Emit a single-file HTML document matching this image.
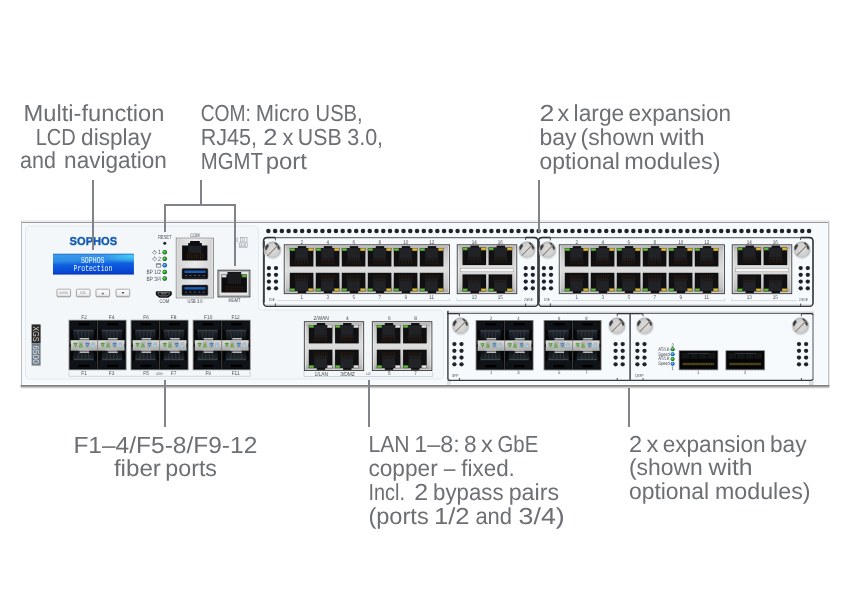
<!DOCTYPE html>
<html><head><meta charset="utf-8"><title>XGS 6500 front view</title>
<style>html,body{margin:0;padding:0;background:#fff}svg{display:block;will-change:transform}text{text-rendering:geometricPrecision}</style></head>
<body>
<svg width="850" height="610" viewBox="0 0 850 610">

<defs>
<linearGradient id="gLcd" x1="0" y1="0" x2="0.12" y2="1"><stop offset="0" stop-color="#3c9deb"/><stop offset="0.36" stop-color="#2f8ce6"/><stop offset="0.56" stop-color="#0f5fe0"/><stop offset="1" stop-color="#0642cf"/></linearGradient>
<radialGradient id="gLcdHi" cx="0.97" cy="0.1" r="0.35" gradientTransform="scale(1 1)"><stop offset="0" stop-color="#45d0f5" stop-opacity="0.95"/><stop offset="1" stop-color="#45d0f5" stop-opacity="0"/></radialGradient>
<linearGradient id="gFrame" x1="0" y1="0" x2="0" y2="1"><stop offset="0" stop-color="#a9a9a9"/><stop offset="0.12" stop-color="#c9c9c9"/><stop offset="0.5" stop-color="#dedede"/><stop offset="0.88" stop-color="#c4c4c4"/><stop offset="1" stop-color="#9c9c9c"/></linearGradient>
<linearGradient id="gFrame2" x1="0" y1="0" x2="1" y2="0"><stop offset="0" stop-color="#d2d2d2"/><stop offset="0.5" stop-color="#eaeaea"/><stop offset="1" stop-color="#d2d2d2"/></linearGradient>
<linearGradient id="gStrip" x1="0" y1="0" x2="0" y2="1"><stop offset="0" stop-color="#dededc"/><stop offset="0.5" stop-color="#c6c6c4"/><stop offset="1" stop-color="#a6a6a4"/></linearGradient>
<radialGradient id="gScrew" cx="0.5" cy="0.52" r="0.52"><stop offset="0" stop-color="#dcdcdc"/><stop offset="0.7" stop-color="#d0d0d0"/><stop offset="0.92" stop-color="#bcbcbc"/><stop offset="1" stop-color="#a6a6a6"/></radialGradient>
<linearGradient id="gTop" x1="0" y1="0" x2="0" y2="1"><stop offset="0" stop-color="#7a7a7a"/><stop offset="0.5" stop-color="#a8a8a8"/><stop offset="1" stop-color="#e6e9eb" stop-opacity="0"/></linearGradient>
<linearGradient id="gBot" x1="0" y1="0" x2="0" y2="1"><stop offset="0" stop-color="#777"/><stop offset="0.5" stop-color="#999"/><stop offset="1" stop-color="#ccc" stop-opacity="0"/></linearGradient>
<linearGradient id="gCage" x1="0" y1="0" x2="0" y2="1"><stop offset="0" stop-color="#242a31"/><stop offset="1" stop-color="#0e1216"/></linearGradient>
<linearGradient id="gCageB" x1="0" y1="1" x2="0" y2="0"><stop offset="0" stop-color="#242a31"/><stop offset="1" stop-color="#0e1216"/></linearGradient>
<radialGradient id="gLedG" cx="0.4" cy="0.35" r="0.7"><stop offset="0" stop-color="#8be06a"/><stop offset="0.5" stop-color="#2fae2a"/><stop offset="1" stop-color="#15701a"/></radialGradient>
<radialGradient id="gLedB" cx="0.4" cy="0.35" r="0.7"><stop offset="0" stop-color="#8fd0ff"/><stop offset="0.5" stop-color="#2a8ae2"/><stop offset="1" stop-color="#115aa8"/></radialGradient>
<linearGradient id="gBayShade" x1="0" y1="0" x2="0" y2="1"><stop offset="0" stop-color="#c6cacd" stop-opacity="0"/><stop offset="1" stop-color="#a9adb0" stop-opacity="0.95"/></linearGradient>
<linearGradient id="gBayShadeUp" x1="0" y1="1" x2="0" y2="0"><stop offset="0" stop-color="#b9bdc0" stop-opacity="0.95"/><stop offset="1" stop-color="#dfe3e6" stop-opacity="0"/></linearGradient>
<linearGradient id="gBtn" x1="0" y1="0" x2="0" y2="1"><stop offset="0" stop-color="#ffffff"/><stop offset="1" stop-color="#e6e6e6"/></linearGradient>

<!-- RJ45 port, tab up. origin = body top-left, body 23.6x18.4 -->
<g id="rjU">
  <rect x="0" y="0" width="23.6" height="18.4" fill="#0d0d0f"/>
  <rect x="8" y="-2" width="8.4" height="2.4" fill="#111114"/>
  <rect x="5.6" y="0.4" width="12.4" height="12" fill="#1e2024"/>
  <rect x="0.6" y="3" width="22.4" height="14.6" fill="#141416" opacity="0.55"/>
  <rect x="5.6" y="0.4" width="12.4" height="9.5" fill="#222428" opacity="0.9"/>
  <g stroke="#5c3412" stroke-width="0.45" opacity="0.6">
    <path d="M5.6 10.6V16.2M7.4 10.6V16.2M9.2 10.6V16.2M11 10.6V16.2M12.8 10.6V16.2M14.6 10.6V16.2M16.4 10.6V16.2M18.2 10.6V16.2"/>
  </g>
</g>
<!-- RJ45 port, tab down -->
<g id="rjD">
  <rect x="0" y="0" width="23.6" height="18.4" fill="#0d0d0f"/>
  <rect x="8" y="18" width="8.4" height="2.2" fill="#111114"/>
  <rect x="5.6" y="6" width="12.4" height="12" fill="#1e2024"/>
  <rect x="0.6" y="0.8" width="22.4" height="14.6" fill="#141416" opacity="0.55"/>
  <rect x="5.6" y="8.5" width="12.4" height="9.5" fill="#222428" opacity="0.9"/>
  <g stroke="#5c3412" stroke-width="0.45" opacity="0.6">
    <path d="M5.6 2.2V7.8M7.4 2.2V7.8M9.2 2.2V7.8M11 2.2V7.8M12.8 2.2V7.8M14.6 2.2V7.8M16.4 2.2V7.8M18.2 2.2V7.8"/>
  </g>
</g>
<!-- LEDs for ports -->
<g id="ledG"><rect width="5.2" height="2.9" fill="#3c7d24"/><rect x="0.7" y="0.6" width="3.8" height="1.6" fill="#74bb46"/></g>
<g id="ledY"><rect width="5.2" height="2.9" fill="#a88a20"/><rect x="0.7" y="0.6" width="3.8" height="1.6" fill="#dcc043"/></g>
<g id="ledW"><rect width="5.2" height="2.9" fill="#a9a9a9"/><rect x="0.7" y="0.6" width="3.8" height="1.6" fill="#e9e9e9"/></g>

<!-- screw r=8 centered at 0,0 -->
<g id="screw">
  <circle cx="0" cy="0.7" r="9" fill="#d3d7da" opacity="0.75"/>
  <circle r="8.1" fill="url(#gScrew)"/>
  <path d="M-7.2 0.2L-7.65 -2.2L-6.9 -4L-5.05 -5.5L-4.1 -4.5L-4.3 -2.9L-5.4 -1.4L-6.1 0.2Z" fill="#3c3c3c" stroke="#6a6a6a" stroke-width="0.5" stroke-linejoin="round"/>
  <path d="M1.6 -7L3.6 -6.8L5.6 -4.8L7 -2.2L6.9 -0.1L5.6 -0.3L4.7 -2.9L3.1 -5.1Z" fill="#353535" stroke="#6a6a6a" stroke-width="0.5" stroke-linejoin="round"/>
  <path d="M-5.4 5.0L4.5 -4.9" stroke="#ffffff" stroke-width="0.6" opacity="0.5"/>
  <path d="M-4.9 5.6L5.05 -4.3" stroke="#8c8076" stroke-width="1.1" stroke-linecap="round"/>
</g>
<!-- 2x4 dots; origin = center of top-left dot -->
<g id="dots8" fill="#1f232c">
  <circle cx="0" cy="0" r="2.15"/><circle cx="7.1" cy="0" r="2.15"/>
  <circle cx="0" cy="6.75" r="2.15"/><circle cx="7.1" cy="6.75" r="2.15"/>
  <circle cx="0" cy="13.5" r="2.15"/><circle cx="7.1" cy="13.5" r="2.15"/>
  <circle cx="0" cy="20.25" r="2.15"/><circle cx="7.1" cy="20.25" r="2.15"/>
</g>

<!-- SFP column (28.5 wide, 49.4 tall) -->
<g id="sfpCol">
  <rect x="1.4" y="1.1" width="25.8" height="8.2" fill="#0f1318"/>
  <rect x="9.4" y="2.5" width="10.8" height="2.5" fill="#000"/>
  <path d="M3.8 9.3H25L24 19.9H4.8Z" fill="url(#gCage)"/>
  <path d="M4.8 10.4H24" stroke="#4a545e" stroke-width="0.7" fill="none"/>
  <path d="M8.9 10.6L9.9 19M20 10.6L19 19M12.7 11.2V18M16.2 11.2V18" stroke="#3a434c" stroke-width="0.6" fill="none"/>
  <rect x="10.6" y="17.8" width="9.4" height="2.1" fill="#777b7e"/>
  <rect x="10.6" y="17.8" width="9.4" height="0.7" fill="#e2e2e2"/>
  <rect x="1.4" y="40.1" width="25.8" height="8.2" fill="#0f1318"/>
  <rect x="9.4" y="44.4" width="10.8" height="2.5" fill="#000"/>
  <path d="M3.8 40.1H25L24 29.9H4.8Z" fill="url(#gCageB)"/>
  <path d="M4.8 39H24" stroke="#4a545e" stroke-width="0.7" fill="none"/>
  <path d="M8.9 38.8L9.9 30.6M20 38.8L19 30.6M12.7 38.2V31.4M16.2 38.2V31.4" stroke="#3a434c" stroke-width="0.6" fill="none"/>
  <rect x="10.6" y="30.4" width="9.4" height="2.1" fill="#777b7e"/>
  <rect x="10.6" y="31.8" width="9.4" height="0.7" fill="#d6d6d6"/>
</g>
<g id="sfpLeds">
  <rect x="9.4" y="19.9" width="11" height="10.5" fill="#b9b9b7" opacity="0.75"/>
  <rect x="4.3" y="21.9" width="4.2" height="5.6" fill="#a9aaa8" opacity="0.55"/>
  <rect x="9.7" y="21.9" width="4.2" height="5.6" fill="#9a9b99" opacity="0.55"/>
  <rect x="16.3" y="21.9" width="4.2" height="5.6" fill="#9a9b99" opacity="0.55"/>
  <rect x="21.9" y="21.9" width="4.2" height="5.6" fill="#a9aaa8" opacity="0.55"/>
  <path d="M4.4 22.8H8.6L6.5 26.9Z" fill="#4c9a38"/><path d="M5.7 23.6H7.3L6.5 25.2Z" fill="#8fd06a"/>
  <path d="M9.6 26.9H13.8L11.7 22.8Z" fill="#56a63e"/><path d="M10.9 26.1H12.5L11.7 24.5Z" fill="#9ad876"/>
  <path d="M16.3 22.8H20.5L18.4 26.9Z" fill="#3a80c6"/><path d="M17.6 23.6H19.2L18.4 25.2Z" fill="#8cc0ee"/>
  <path d="M21.8 26.9H25.8L23.8 22.8Z" fill="#86c0ea"/><path d="M23 26.1H24.6L23.8 24.5Z" fill="#e4f3fc"/>
</g>
<g id="sfp">
  <rect x="-0.5" y="-0.5" width="58" height="50.4" fill="#858585"/><rect x="0.4" y="0.4" width="56.2" height="48.6" fill="#060708"/>
  <use href="#sfpCol"/><use href="#sfpCol" x="28.5"/>
  <rect x="1.5" y="19.9" width="54" height="10.5" fill="url(#gStrip)"/>
  <path d="M1.5 22.7L0.4 25.1L1.5 27.5ZM55.5 22.7L56.6 25.1L55.5 27.5Z" fill="#060708"/>
  <use href="#sfpLeds"/><use href="#sfpLeds" x="27.2"/>
  <path d="M28.5 0.5V19.9M28.5 30.4V49" stroke="#505050" stroke-width="0.8"/>
  <path d="M28.5 19.9V30.4" stroke="#6a6a6a" stroke-width="0.7"/>
</g>

<!-- QSFP port 38.8 x 19.2 -->
<g id="qsfp">
  <rect x="0" y="0" width="38.8" height="19.2" fill="#050506" stroke="#8d8f92" stroke-width="0.7"/>
  <rect x="2.4" y="2" width="33.8" height="6" rx="1" fill="#121416"/>
  <path d="M10.9 2.2V7.8M19.4 2.2V7.8M27.9 2.2V7.8" stroke="#050506" stroke-width="0.9"/>
  <path d="M9 2.7H30" stroke="#4c5056" stroke-width="0.6"/>
  <rect x="3.4" y="11.9" width="31.8" height="2.8" fill="#2a2712"/>
  <path d="M3.8 13.3H34.8" stroke="#796c28" stroke-width="1.05" stroke-dasharray="1.2 0.45"/>
  <path d="M1 18.6H37.8" stroke="#6a6c70" stroke-width="0.5" stroke-dasharray="2.4 0.8"/>
</g>
</defs>

<rect x="21" y="220" width="808" height="165" fill="#f6fafc"/>
<rect x="21" y="220" width="808" height="2" fill="#ededee"/>
<rect x="21" y="222" width="808" height="1" fill="#979a9e"/>
<rect x="21" y="221" width="1" height="164" fill="#bcbfc2"/>
<rect x="828" y="221" width="1" height="164" fill="#c0c2c4"/>
<rect x="829" y="222" width="0.6" height="164" fill="#dcdcdc"/>
<rect x="22" y="384" width="806" height="1" fill="#ffffff"/>
<rect x="20.6" y="385" width="808.8" height="1.8" fill="#7e7e7c"/>
<rect x="20.6" y="386.8" width="808.8" height="1.2" fill="#b9b9b8" opacity="0.75"/>
<rect x="21" y="388" width="808" height="0.8" fill="#e4e4e4" opacity="0.7"/>
<path d="M29.5 226H254.5Q258.5 226 258.5 230V306.5Q258.5 310 262 310H439Q443.5 310 443.5 314.5V374.5Q443.5 379 439 379H29.5Q25.5 379 25.5 375V230Q25.5 226 29.5 226Z" fill="#f3f7fa" stroke="#e3e7ea" stroke-width="0.9"/>
<g font-family="'Liberation Sans', sans-serif" fill="#6c6f73">
<text y="120.7" font-size="23.2"><tspan x="23.5" textLength="141.0" lengthAdjust="spacingAndGlyphs">Multi-function</tspan></text>
<text y="144.5" font-size="23.2"><tspan x="35.7" textLength="40.2" lengthAdjust="spacingAndGlyphs">LCD</tspan> <tspan x="81.1" textLength="70.4" lengthAdjust="spacingAndGlyphs">display</tspan></text>
<text y="168.2" font-size="23.2"><tspan x="20.1" textLength="35.8" lengthAdjust="spacingAndGlyphs">and</tspan> <tspan x="64.1" textLength="102.8" lengthAdjust="spacingAndGlyphs">navigation</tspan></text>
<text y="121.0" font-size="23.2"><tspan x="200.7" textLength="50.2" lengthAdjust="spacingAndGlyphs">COM:</tspan> <tspan x="255.8" textLength="53.7" lengthAdjust="spacingAndGlyphs">Micro</tspan> <tspan x="315.6" textLength="47.0" lengthAdjust="spacingAndGlyphs">USB,</tspan></text>
<text y="145.0" font-size="23.2"><tspan x="200.7" textLength="56.4" lengthAdjust="spacingAndGlyphs">RJ45,</tspan> <tspan x="263.2" textLength="14.2" lengthAdjust="spacingAndGlyphs">2</tspan> <tspan x="282.5" textLength="10.9" lengthAdjust="spacingAndGlyphs">x</tspan> <tspan x="297.8" textLength="43.8" lengthAdjust="spacingAndGlyphs">USB</tspan> <tspan x="347.2" textLength="35.9" lengthAdjust="spacingAndGlyphs">3.0,</tspan></text>
<text y="169.0" font-size="23.2"><tspan x="200.7" textLength="61.8" lengthAdjust="spacingAndGlyphs">MGMT</tspan> <tspan x="265.7" textLength="41.3" lengthAdjust="spacingAndGlyphs">port</tspan></text>
<text y="121.3" font-size="23.2"><tspan x="539.5" textLength="14.9" lengthAdjust="spacingAndGlyphs">2</tspan> <tspan x="557.5" textLength="11.7" lengthAdjust="spacingAndGlyphs">x</tspan> <tspan x="573.6" textLength="50.7" lengthAdjust="spacingAndGlyphs">large</tspan> <tspan x="628.4" textLength="102.6" lengthAdjust="spacingAndGlyphs">expansion</tspan></text>
<text y="145.3" font-size="23.2"><tspan x="539.5" textLength="37.1" lengthAdjust="spacingAndGlyphs">bay</tspan> <tspan x="580.5" textLength="73.9" lengthAdjust="spacingAndGlyphs">(shown</tspan> <tspan x="660.0" textLength="44.6" lengthAdjust="spacingAndGlyphs">with</tspan></text>
<text y="169.1" font-size="23.2"><tspan x="539.5" textLength="80.3" lengthAdjust="spacingAndGlyphs">optional</tspan> <tspan x="624.2" textLength="96.4" lengthAdjust="spacingAndGlyphs">modules)</tspan></text>
<text y="452.5" font-size="23.2"><tspan x="73.4" textLength="183.9" lengthAdjust="spacingAndGlyphs">F1–4/F5-8/F9-12</tspan></text>
<text y="476.3" font-size="23.2"><tspan x="113.9" textLength="47.0" lengthAdjust="spacingAndGlyphs">fiber</tspan> <tspan x="165.3" textLength="51.7" lengthAdjust="spacingAndGlyphs">ports</tspan></text>
<text y="451.8" font-size="23.2"><tspan x="368.4" textLength="41.1" lengthAdjust="spacingAndGlyphs">LAN</tspan> <tspan x="414.2" textLength="45.5" lengthAdjust="spacingAndGlyphs">1–8:</tspan> <tspan x="464.1" textLength="12.6" lengthAdjust="spacingAndGlyphs">8</tspan> <tspan x="481.1" textLength="11.9" lengthAdjust="spacingAndGlyphs">x</tspan> <tspan x="497.5" textLength="40.7" lengthAdjust="spacingAndGlyphs">GbE</tspan></text>
<text y="475.7" font-size="23.2"><tspan x="368.4" textLength="69.3" lengthAdjust="spacingAndGlyphs">copper</tspan> <tspan x="443.8" textLength="11.7" lengthAdjust="spacingAndGlyphs">–</tspan> <tspan x="461.3" textLength="53.5" lengthAdjust="spacingAndGlyphs">fixed.</tspan></text>
<text y="499.6" font-size="23.2"><tspan x="368.5" textLength="36.4" lengthAdjust="spacingAndGlyphs">Incl.</tspan> <tspan x="414.2" textLength="13.9" lengthAdjust="spacingAndGlyphs">2</tspan> <tspan x="433.1" textLength="70.4" lengthAdjust="spacingAndGlyphs">bypass</tspan> <tspan x="508.7" textLength="50.4" lengthAdjust="spacingAndGlyphs">pairs</tspan></text>
<text y="523.5" font-size="23.2"><tspan x="368.4" textLength="60.3" lengthAdjust="spacingAndGlyphs">(ports</tspan> <tspan x="433.9" textLength="35.7" lengthAdjust="spacingAndGlyphs">1/2</tspan> <tspan x="475.4" textLength="36.6" lengthAdjust="spacingAndGlyphs">and</tspan> <tspan x="518.6" textLength="46.2" lengthAdjust="spacingAndGlyphs">3/4)</tspan></text>
<text y="451.5" font-size="23.2"><tspan x="628.9" textLength="13.1" lengthAdjust="spacingAndGlyphs">2</tspan> <tspan x="646.4" textLength="11.9" lengthAdjust="spacingAndGlyphs">x</tspan> <tspan x="662.7" textLength="102.9" lengthAdjust="spacingAndGlyphs">expansion</tspan> <tspan x="770.0" textLength="36.6" lengthAdjust="spacingAndGlyphs">bay</tspan></text>
<text y="475.3" font-size="23.2"><tspan x="628.9" textLength="73.8" lengthAdjust="spacingAndGlyphs">(shown</tspan> <tspan x="708.5" textLength="44.1" lengthAdjust="spacingAndGlyphs">with</tspan></text>
<text y="498.9" font-size="23.2"><tspan x="628.9" textLength="80.3" lengthAdjust="spacingAndGlyphs">optional</tspan> <tspan x="715.0" textLength="95.5" lengthAdjust="spacingAndGlyphs">modules)</tspan></text>
</g>
<g font-family="'Liberation Sans', sans-serif">
<text x="69.6" y="244.7" font-size="11.4" font-weight="bold" fill="#135ab0" stroke="#135ab0" stroke-width="0.35" textLength="47.6" lengthAdjust="spacingAndGlyphs">SOPHOS</text>
<rect x="53" y="253.8" width="80.9" height="20.6" fill="url(#gLcd)"/>
<rect x="53" y="253.8" width="80.9" height="20.6" fill="url(#gLcdHi)"/>
<rect x="53" y="273.4" width="80.9" height="1" fill="#0a2fa8" opacity="0.7"/>
<rect x="53" y="253.8" width="80.9" height="0.8" fill="#1546a8" opacity="0.6"/>
<g font-family="'Liberation Mono', monospace" fill="#eef6ff" font-size="9">
<text x="80.9" y="262.9" textLength="23.6" lengthAdjust="spacingAndGlyphs">SOPHOS</text>
<text x="73.5" y="271.1" textLength="38.8" lengthAdjust="spacingAndGlyphs">Protection</text>
</g>
<rect x="56.8" y="289.6" width="14" height="7.8" rx="1" fill="#9a9a9a" opacity="0.55"/>
<rect x="57" y="289.2" width="13.6" height="7.2" rx="0.9" fill="url(#gBtn)" stroke="#8e8e8e" stroke-width="0.7"/>
<text transform="translate(63.8 294.1) scale(0.87 1)" font-size="3.68" text-anchor="middle" fill="#8a8a8a" textLength="9.89" lengthAdjust="spacingAndGlyphs" >ENTER</text>
<rect x="76.2" y="289.6" width="14" height="7.8" rx="1" fill="#9a9a9a" opacity="0.55"/>
<rect x="76.4" y="289.2" width="13.6" height="7.2" rx="0.9" fill="url(#gBtn)" stroke="#8e8e8e" stroke-width="0.7"/>
<text transform="translate(83.2 294.1) scale(0.87 1)" font-size="3.68" text-anchor="middle" fill="#8a8a8a" textLength="6.90" lengthAdjust="spacingAndGlyphs" >ESC</text>
<rect x="95.8" y="289.6" width="14" height="7.8" rx="1" fill="#9a9a9a" opacity="0.55"/>
<rect x="96" y="289.2" width="13.6" height="7.2" rx="0.9" fill="url(#gBtn)" stroke="#8e8e8e" stroke-width="0.7"/>
<path d="M101.6 294.2H104.2L102.9 292.2Z" fill="#555"/>
<rect x="115.89999999999999" y="289.6" width="14" height="7.8" rx="1" fill="#9a9a9a" opacity="0.55"/>
<rect x="116.1" y="289.2" width="13.6" height="7.2" rx="0.9" fill="url(#gBtn)" stroke="#8e8e8e" stroke-width="0.7"/>
<path d="M121.69999999999999 292.1H124.3L123.0 294.1Z" fill="#333"/>
<text transform="translate(164.7 239.0) scale(0.87 1)" font-size="5.75" text-anchor="middle" fill="#4d5158" textLength="15.63" lengthAdjust="spacingAndGlyphs" >RESET</text>
<circle cx="164.8" cy="243.3" r="1.5" fill="#1c2030"/>
<circle cx="164.7" cy="252.3" r="2.25" fill="#14581a"/>
<circle cx="164.7" cy="252.3" r="1.85" fill="url(#gLedG)"/>
<circle cx="164.7" cy="258.8" r="2.25" fill="#14581a"/>
<circle cx="164.7" cy="258.8" r="1.85" fill="url(#gLedG)"/>
<circle cx="164.7" cy="265.3" r="2.25" fill="#0e4a8c"/>
<circle cx="164.7" cy="265.3" r="1.85" fill="url(#gLedB)"/>
<circle cx="164.7" cy="272.0" r="2.25" fill="#14581a"/>
<circle cx="164.7" cy="272.0" r="1.85" fill="url(#gLedG)"/>
<circle cx="164.7" cy="278.6" r="2.25" fill="#14581a"/>
<circle cx="164.7" cy="278.6" r="1.85" fill="url(#gLedG)"/>
<text transform="translate(161.0 254.2) scale(0.87 1)" font-size="6.21" text-anchor="end" fill="#4d5158" >1</text>
<text transform="translate(161.0 260.7) scale(0.87 1)" font-size="6.21" text-anchor="end" fill="#4d5158" >2</text>
<path d="M154.6 250.8L156.8 252.5L154.6 254.4L152.4 252.5Z" fill="none" stroke="#555a61" stroke-width="0.55"/><path d="M154.6 249.9V251.7" stroke="#555a61" stroke-width="0.55"/>
<path d="M154.6 257.3L156.8 259.0L154.6 260.9L152.4 259.0Z" fill="none" stroke="#555a61" stroke-width="0.55"/><path d="M154.6 256.4V258.2" stroke="#555a61" stroke-width="0.55"/>
<path d="M156.4 263.5H160.6V267.2H156.4ZM156.4 264.5H160.6" fill="none" stroke="#555a61" stroke-width="0.6"/>
<text transform="translate(161.0 273.9) scale(0.87 1)" font-size="6.09" text-anchor="end" fill="#4d5158" textLength="16.78" lengthAdjust="spacingAndGlyphs" >BP 1/2</text>
<text transform="translate(161.0 280.5) scale(0.87 1)" font-size="6.09" text-anchor="end" fill="#4d5158" textLength="16.78" lengthAdjust="spacingAndGlyphs" >BP 3/4</text>
<path d="M157 291.2H170.6Q171.8 291.2 171.8 292.4V294.2Q171.8 295 171 295.6L168.6 297.4Q168 297.8 167.2 297.8H160.4Q159.6 297.8 159 297.4L156.6 295.6Q155.8 295 155.8 294.2V292.4Q155.8 291.2 157 291.2Z" fill="#121214"/>
<path d="M158 292.6H169.6V293.9L167.6 295.9H160L158 293.9Z" fill="none" stroke="#cfcfcf" stroke-width="0.5"/>
<rect x="161" y="293.4" width="5.6" height="0.9" fill="#8a8a8a"/>
<text transform="translate(164.3 302.7) scale(0.87 1)" font-size="5.52" text-anchor="middle" fill="#484c53" textLength="10.80" lengthAdjust="spacingAndGlyphs" >COM</text>
<text transform="translate(195 236.6) scale(0.87 1)" font-size="5.52" text-anchor="middle" fill="#484c53" textLength="10.80" lengthAdjust="spacingAndGlyphs" >COM</text>
<rect x="176.2" y="238.1" width="37.2" height="59.8" fill="url(#gFrame2)" stroke="#7e7e7e" stroke-width="0.8"/>
<rect x="177" y="238.9" width="35.6" height="58.2" fill="none" stroke="#f4f4f4" stroke-width="0.6" opacity="0.7"/>
<path d="M182.1 245.4H188.2V242.9H190.1V241H199.8V242.9H201.8V245.4H207.4V260.5H182.1Z" fill="#0d0d0f"/>
<path d="M188.4 245.6H201.6V253H188.4Z" fill="#1e2024"/>
<path d="M187.4 253.4V259M189.6 253.4V259M191.8 253.4V259M194 253.4V259M196.2 253.4V259M198.4 253.4V259M200.6 253.4V259M202.8 253.4V259" stroke="#6a3a12" stroke-width="0.45"/>
<rect x="182" y="268.4" width="25.9" height="10.6" rx="1.3" fill="#0b0e14" stroke="#4d5056" stroke-width="0.5"/>
<rect x="184.4" y="270.5" width="21.2" height="2.5" fill="#1a5bb0"/>
<path d="M185 275.5H187.4M189.2 275.5H191.6M193.6 275.5H196M198 275.5H200.4M202.4 275.5H204.8" stroke="#6a717a" stroke-width="0.7"/>
<path d="M184 277.7H206" stroke="#3a3e44" stroke-width="0.5"/>
<rect x="182" y="285.0" width="25.9" height="10.6" rx="1.3" fill="#0b0e14" stroke="#4d5056" stroke-width="0.5"/>
<rect x="184.4" y="287.1" width="21.2" height="2.5" fill="#1a5bb0"/>
<path d="M185 292.1H187.4M189.2 292.1H191.6M193.6 292.1H196M198 292.1H200.4M202.4 292.1H204.8" stroke="#6a717a" stroke-width="0.7"/>
<path d="M184 294.3H206" stroke="#3a3e44" stroke-width="0.5"/>
<text transform="translate(195 302.7) scale(0.87 1)" font-size="5.52" text-anchor="middle" fill="#484c53" textLength="17.24" lengthAdjust="spacingAndGlyphs" >USB 3.0</text>
<rect x="218" y="270.2" width="31.9" height="26.7" fill="#e4e4e4" stroke="#2e2e2e" stroke-width="0.9"/>
<rect x="219.2" y="271.4" width="29.5" height="24.3" fill="none" stroke="#a9a9a9" stroke-width="0.8"/>
<path d="M221.4 274.6H227.6V272H241.2V274.6H246.9V292.6H221.4Z" fill="#0d0d0f"/>
<rect x="227.8" y="272.4" width="13.2" height="11.5" fill="#1a1b1e"/>
<path d="M226.6 285.6V291.2M228.8 285.6V291.2M231 285.6V291.2M233.2 285.6V291.2M235.4 285.6V291.2M237.6 285.6V291.2M239.8 285.6V291.2M242 285.6V291.2" stroke="#4e2a10" stroke-width="0.45"/>
<use href="#ledW" x="221.4" y="274.6"/><use href="#ledG" x="241.7" y="274.6"/>
<text transform="translate(234.4 301.8) scale(0.87 1)" font-size="5.52" text-anchor="middle" fill="#484c53" textLength="13.56" lengthAdjust="spacingAndGlyphs" >MGMT</text>
<g fill="none" stroke="#8c929a" stroke-width="0.55"><path d="M238.6 238.2H236.8V241.4H238.6"/><rect x="240.4" y="237.6" width="6.6" height="4.4"/><rect x="239.2" y="243" width="8" height="4.2"/></g>
<text transform="translate(243.7 241.3) scale(0.87 1)" font-size="4.37" text-anchor="middle" fill="#7e848c" >D</text>
<text transform="translate(243.2 246.6) scale(0.87 1)" font-size="4.37" text-anchor="middle" fill="#7e848c" >A B</text>
<rect x="31.6" y="324.4" width="9" height="19" fill="#2b2926"/>
<rect x="31.6" y="343.4" width="9" height="22.2" fill="#717e89"/>
<text transform="translate(33.2 326.2) rotate(90)" font-size="8.6" fill="#cfcfcf" textLength="15.6" lengthAdjust="spacingAndGlyphs">XGS</text>
<text transform="translate(33.2 345.2) rotate(90)" font-size="8.6" fill="#dde3e9" textLength="18.6" lengthAdjust="spacingAndGlyphs">6500</text>
</g>
<g font-family="'Liberation Sans', sans-serif">
<g fill="#1f232c">
<circle cx="268.35" cy="230.9" r="2.25"/>
<circle cx="275.11" cy="230.9" r="2.25"/>
<circle cx="281.87" cy="230.9" r="2.25"/>
<circle cx="288.63" cy="230.9" r="2.25"/>
<circle cx="295.38" cy="230.9" r="2.25"/>
<circle cx="302.14" cy="230.9" r="2.25"/>
<circle cx="308.90" cy="230.9" r="2.25"/>
<circle cx="315.66" cy="230.9" r="2.25"/>
<circle cx="322.42" cy="230.9" r="2.25"/>
<circle cx="329.18" cy="230.9" r="2.25"/>
<circle cx="335.94" cy="230.9" r="2.25"/>
<circle cx="342.69" cy="230.9" r="2.25"/>
<circle cx="349.45" cy="230.9" r="2.25"/>
<circle cx="356.21" cy="230.9" r="2.25"/>
<circle cx="362.97" cy="230.9" r="2.25"/>
<circle cx="369.73" cy="230.9" r="2.25"/>
<circle cx="376.49" cy="230.9" r="2.25"/>
<circle cx="383.25" cy="230.9" r="2.25"/>
<circle cx="390.00" cy="230.9" r="2.25"/>
<circle cx="396.76" cy="230.9" r="2.25"/>
<circle cx="403.52" cy="230.9" r="2.25"/>
<circle cx="410.28" cy="230.9" r="2.25"/>
<circle cx="417.04" cy="230.9" r="2.25"/>
<circle cx="423.80" cy="230.9" r="2.25"/>
<circle cx="430.56" cy="230.9" r="2.25"/>
<circle cx="437.32" cy="230.9" r="2.25"/>
<circle cx="444.07" cy="230.9" r="2.25"/>
<circle cx="450.83" cy="230.9" r="2.25"/>
<circle cx="457.59" cy="230.9" r="2.25"/>
<circle cx="464.35" cy="230.9" r="2.25"/>
<circle cx="471.11" cy="230.9" r="2.25"/>
<circle cx="477.87" cy="230.9" r="2.25"/>
<circle cx="484.63" cy="230.9" r="2.25"/>
<circle cx="491.38" cy="230.9" r="2.25"/>
<circle cx="498.14" cy="230.9" r="2.25"/>
<circle cx="504.90" cy="230.9" r="2.25"/>
<circle cx="511.66" cy="230.9" r="2.25"/>
<circle cx="518.42" cy="230.9" r="2.25"/>
<circle cx="525.18" cy="230.9" r="2.25"/>
<circle cx="531.94" cy="230.9" r="2.25"/>
<circle cx="538.69" cy="230.9" r="2.25"/>
<circle cx="545.45" cy="230.9" r="2.25"/>
<circle cx="552.21" cy="230.9" r="2.25"/>
<circle cx="558.97" cy="230.9" r="2.25"/>
<circle cx="565.73" cy="230.9" r="2.25"/>
<circle cx="572.49" cy="230.9" r="2.25"/>
<circle cx="579.25" cy="230.9" r="2.25"/>
<circle cx="586.00" cy="230.9" r="2.25"/>
<circle cx="592.76" cy="230.9" r="2.25"/>
<circle cx="599.52" cy="230.9" r="2.25"/>
<circle cx="606.28" cy="230.9" r="2.25"/>
<circle cx="613.04" cy="230.9" r="2.25"/>
<circle cx="619.80" cy="230.9" r="2.25"/>
<circle cx="626.56" cy="230.9" r="2.25"/>
<circle cx="633.31" cy="230.9" r="2.25"/>
<circle cx="640.07" cy="230.9" r="2.25"/>
<circle cx="646.83" cy="230.9" r="2.25"/>
<circle cx="653.59" cy="230.9" r="2.25"/>
<circle cx="660.35" cy="230.9" r="2.25"/>
<circle cx="667.11" cy="230.9" r="2.25"/>
<circle cx="673.87" cy="230.9" r="2.25"/>
<circle cx="680.62" cy="230.9" r="2.25"/>
<circle cx="687.38" cy="230.9" r="2.25"/>
<circle cx="694.14" cy="230.9" r="2.25"/>
<circle cx="700.90" cy="230.9" r="2.25"/>
<circle cx="707.66" cy="230.9" r="2.25"/>
<circle cx="714.42" cy="230.9" r="2.25"/>
<circle cx="721.18" cy="230.9" r="2.25"/>
<circle cx="727.93" cy="230.9" r="2.25"/>
<circle cx="734.69" cy="230.9" r="2.25"/>
<circle cx="741.45" cy="230.9" r="2.25"/>
<circle cx="748.21" cy="230.9" r="2.25"/>
<circle cx="754.97" cy="230.9" r="2.25"/>
<circle cx="761.73" cy="230.9" r="2.25"/>
<circle cx="768.49" cy="230.9" r="2.25"/>
<circle cx="775.25" cy="230.9" r="2.25"/>
<circle cx="782.00" cy="230.9" r="2.25"/>
<circle cx="788.76" cy="230.9" r="2.25"/>
<circle cx="795.52" cy="230.9" r="2.25"/>
<circle cx="802.28" cy="230.9" r="2.25"/>
<circle cx="809.04" cy="230.9" r="2.25"/>
</g>
<rect x="263.5" y="237.5" width="274.5" height="68.9" rx="3.8" fill="#f7fafd" stroke="#70747a" stroke-width="1.25"/>
<path d="M263.5 248V241.3Q263.5 237.5 267.3 237.5H275.4M525.6 237.5H534.2Q538 237.5 538 241.3V300" stroke="#2f3135" stroke-width="1.3" fill="none"/>
<path d="M263.5 300V302.6Q263.5 306.4 267.3 306.4H534.2Q538 306.4 538 302.6V300" stroke="#36383c" stroke-width="1.25" fill="none"/>
<rect x="265.4" y="303.4" width="270.8" height="2.5" fill="url(#gBayShade)"/>
<path d="M263.9 241V302.6" stroke="#3c3e42" stroke-width="1.9"/>
<rect x="263" y="307" width="275.4" height="1.2" fill="#ffffff" opacity="0.8"/>
<path d="M275.4 238V240.4M275.4 306V303.4M525.6 238V240M525.6 306V303.6" stroke="#3c3e42" stroke-width="0.9"/>
<use href="#screw" x="272.7" y="249.7"/><use href="#screw" x="527" y="249.5"/>
<use href="#dots8" x="268.9" y="268.1"/><use href="#dots8" x="525.7" y="268.1"/>
<rect x="284.2" y="244.8" width="165.4" height="48.9" fill="url(#gFrame)" stroke="#303030" stroke-width="0.8"/>
<rect x="285.3" y="245.9" width="163.20000000000002" height="46.7" fill="none" stroke="#efefef" stroke-width="0.7" opacity="0.8"/>
<use href="#rjU" x="289.80" y="248.10"/>
<use href="#ledG" x="289.80" y="248.10"/><use href="#ledY" x="308.20" y="248.10"/>
<use href="#rjD" x="289.80" y="272.80"/>
<use href="#ledG" x="289.80" y="288.30"/><use href="#ledY" x="308.20" y="288.30"/>
<use href="#rjU" x="315.80" y="248.10"/>
<use href="#ledG" x="315.80" y="248.10"/><use href="#ledY" x="334.20" y="248.10"/>
<use href="#rjD" x="315.80" y="272.80"/>
<use href="#ledG" x="315.80" y="288.30"/><use href="#ledY" x="334.20" y="288.30"/>
<use href="#rjU" x="341.80" y="248.10"/>
<use href="#ledG" x="341.80" y="248.10"/><use href="#ledY" x="360.20" y="248.10"/>
<use href="#rjD" x="341.80" y="272.80"/>
<use href="#ledG" x="341.80" y="288.30"/><use href="#ledY" x="360.20" y="288.30"/>
<use href="#rjU" x="367.80" y="248.10"/>
<use href="#ledG" x="367.80" y="248.10"/><use href="#ledY" x="386.20" y="248.10"/>
<use href="#rjD" x="367.80" y="272.80"/>
<use href="#ledG" x="367.80" y="288.30"/><use href="#ledY" x="386.20" y="288.30"/>
<use href="#rjU" x="393.80" y="248.10"/>
<use href="#ledG" x="393.80" y="248.10"/><use href="#ledY" x="412.20" y="248.10"/>
<use href="#rjD" x="393.80" y="272.80"/>
<use href="#ledG" x="393.80" y="288.30"/><use href="#ledY" x="412.20" y="288.30"/>
<use href="#rjU" x="419.80" y="248.10"/>
<use href="#ledG" x="419.80" y="248.10"/><use href="#ledY" x="438.20" y="248.10"/>
<use href="#rjD" x="419.80" y="272.80"/>
<use href="#ledG" x="419.80" y="288.30"/><use href="#ledY" x="438.20" y="288.30"/>
<rect x="457.2" y="244.8" width="59.6" height="48.9" fill="url(#gFrame)" stroke="#303030" stroke-width="0.8"/>
<rect x="458.3" y="245.9" width="57.4" height="46.7" fill="none" stroke="#efefef" stroke-width="0.7" opacity="0.8"/>
<rect x="460.4" y="268.40000000000003" width="53.2" height="3.4" fill="#f6f6f6" stroke="#9a9a9a" stroke-width="0.5"/>
<g transform="translate(0 247.50) scale(1 0.955) translate(0 -247.50)"><use href="#rjU" x="462.50" y="247.50"/></g>
<use href="#ledG" x="462.50" y="247.50"/><use href="#ledY" x="480.90" y="247.50"/>
<g transform="translate(0 274.40) scale(1 0.92) translate(0 -274.40)"><use href="#rjD" x="462.50" y="274.40"/></g>
<use href="#ledG" x="462.50" y="288.43"/><use href="#ledY" x="480.90" y="288.43"/>
<g transform="translate(0 247.50) scale(1 0.955) translate(0 -247.50)"><use href="#rjU" x="488.60" y="247.50"/></g>
<use href="#ledG" x="488.60" y="247.50"/><use href="#ledY" x="507.00" y="247.50"/>
<g transform="translate(0 274.40) scale(1 0.92) translate(0 -274.40)"><use href="#rjD" x="488.60" y="274.40"/></g>
<use href="#ledG" x="488.60" y="288.43"/><use href="#ledY" x="507.00" y="288.43"/>
<text transform="translate(301.7 243.6) scale(0.87 1)" font-size="5.29" text-anchor="middle" fill="#484c53" >2</text>
<text transform="translate(301.7 298.8) scale(0.87 1)" font-size="5.29" text-anchor="middle" fill="#484c53" >1</text>
<text transform="translate(327.7 243.6) scale(0.87 1)" font-size="5.29" text-anchor="middle" fill="#484c53" >4</text>
<text transform="translate(327.7 298.8) scale(0.87 1)" font-size="5.29" text-anchor="middle" fill="#484c53" >3</text>
<text transform="translate(353.7 243.6) scale(0.87 1)" font-size="5.29" text-anchor="middle" fill="#484c53" >6</text>
<text transform="translate(353.7 298.8) scale(0.87 1)" font-size="5.29" text-anchor="middle" fill="#484c53" >5</text>
<text transform="translate(379.7 243.6) scale(0.87 1)" font-size="5.29" text-anchor="middle" fill="#484c53" >8</text>
<text transform="translate(379.7 298.8) scale(0.87 1)" font-size="5.29" text-anchor="middle" fill="#484c53" >7</text>
<text transform="translate(405.7 243.6) scale(0.87 1)" font-size="5.29" text-anchor="middle" fill="#484c53" >10</text>
<text transform="translate(405.7 298.8) scale(0.87 1)" font-size="5.29" text-anchor="middle" fill="#484c53" >9</text>
<text transform="translate(431.7 243.6) scale(0.87 1)" font-size="5.29" text-anchor="middle" fill="#484c53" >12</text>
<text transform="translate(431.7 298.8) scale(0.87 1)" font-size="5.29" text-anchor="middle" fill="#484c53" >11</text>
<text transform="translate(474.2 243.6) scale(0.87 1)" font-size="5.29" text-anchor="middle" fill="#484c53" >14</text>
<text transform="translate(474.2 298.8) scale(0.87 1)" font-size="5.29" text-anchor="middle" fill="#484c53" >13</text>
<text transform="translate(500.3 243.6) scale(0.87 1)" font-size="5.29" text-anchor="middle" fill="#484c53" >16</text>
<text transform="translate(500.3 298.8) scale(0.87 1)" font-size="5.29" text-anchor="middle" fill="#484c53" >15</text>
<text transform="translate(271.8 301.0) scale(0.87 1)" font-size="4.37" text-anchor="middle" fill="#3c4047" textLength="6.67" lengthAdjust="spacingAndGlyphs" >1GE</text>
<text transform="translate(528.4 301.0) scale(0.87 1)" font-size="4.37" text-anchor="middle" fill="#3c4047" textLength="10.11" lengthAdjust="spacingAndGlyphs" >2.5GE</text>
<path d="M277 300.6H449.6V298.2M456.8 298.2V300.6H521.6" fill="none" stroke="#b9bec4" stroke-width="0.55"/>
<rect x="538.5" y="237.5" width="274.5" height="68.9" rx="3.8" fill="#f7fafd" stroke="#70747a" stroke-width="1.25"/>
<path d="M538.5 248V241.3Q538.5 237.5 542.3 237.5H550.4M800.6 237.5H809.2Q813 237.5 813 241.3V300" stroke="#2f3135" stroke-width="1.3" fill="none"/>
<path d="M538.5 300V302.6Q538.5 306.4 542.3 306.4H809.2Q813 306.4 813 302.6V300" stroke="#36383c" stroke-width="1.25" fill="none"/>
<rect x="540.4" y="303.4" width="270.8" height="2.5" fill="url(#gBayShade)"/>
<path d="M538.9 241V302.6" stroke="#3c3e42" stroke-width="1.9"/>
<rect x="538" y="307" width="275.4" height="1.2" fill="#ffffff" opacity="0.8"/>
<path d="M550.4 238V240.4M550.4 306V303.4M800.6 238V240M800.6 306V303.6" stroke="#3c3e42" stroke-width="0.9"/>
<use href="#screw" x="547.7" y="249.7"/><use href="#screw" x="802" y="249.5"/>
<use href="#dots8" x="543.9" y="268.1"/><use href="#dots8" x="800.7" y="268.1"/>
<rect x="559.2" y="244.8" width="165.4" height="48.9" fill="url(#gFrame)" stroke="#303030" stroke-width="0.8"/>
<rect x="560.3000000000001" y="245.9" width="163.20000000000002" height="46.7" fill="none" stroke="#efefef" stroke-width="0.7" opacity="0.8"/>
<use href="#rjU" x="564.80" y="248.10"/>
<use href="#ledG" x="564.80" y="248.10"/><use href="#ledY" x="583.20" y="248.10"/>
<use href="#rjD" x="564.80" y="272.80"/>
<use href="#ledG" x="564.80" y="288.30"/><use href="#ledY" x="583.20" y="288.30"/>
<use href="#rjU" x="590.80" y="248.10"/>
<use href="#ledG" x="590.80" y="248.10"/><use href="#ledY" x="609.20" y="248.10"/>
<use href="#rjD" x="590.80" y="272.80"/>
<use href="#ledG" x="590.80" y="288.30"/><use href="#ledY" x="609.20" y="288.30"/>
<use href="#rjU" x="616.80" y="248.10"/>
<use href="#ledG" x="616.80" y="248.10"/><use href="#ledY" x="635.20" y="248.10"/>
<use href="#rjD" x="616.80" y="272.80"/>
<use href="#ledG" x="616.80" y="288.30"/><use href="#ledY" x="635.20" y="288.30"/>
<use href="#rjU" x="642.80" y="248.10"/>
<use href="#ledG" x="642.80" y="248.10"/><use href="#ledY" x="661.20" y="248.10"/>
<use href="#rjD" x="642.80" y="272.80"/>
<use href="#ledG" x="642.80" y="288.30"/><use href="#ledY" x="661.20" y="288.30"/>
<use href="#rjU" x="668.80" y="248.10"/>
<use href="#ledG" x="668.80" y="248.10"/><use href="#ledY" x="687.20" y="248.10"/>
<use href="#rjD" x="668.80" y="272.80"/>
<use href="#ledG" x="668.80" y="288.30"/><use href="#ledY" x="687.20" y="288.30"/>
<use href="#rjU" x="694.80" y="248.10"/>
<use href="#ledG" x="694.80" y="248.10"/><use href="#ledY" x="713.20" y="248.10"/>
<use href="#rjD" x="694.80" y="272.80"/>
<use href="#ledG" x="694.80" y="288.30"/><use href="#ledY" x="713.20" y="288.30"/>
<rect x="732.2" y="244.8" width="59.6" height="48.9" fill="url(#gFrame)" stroke="#303030" stroke-width="0.8"/>
<rect x="733.3000000000001" y="245.9" width="57.4" height="46.7" fill="none" stroke="#efefef" stroke-width="0.7" opacity="0.8"/>
<rect x="735.4000000000001" y="268.40000000000003" width="53.2" height="3.4" fill="#f6f6f6" stroke="#9a9a9a" stroke-width="0.5"/>
<g transform="translate(0 247.50) scale(1 0.955) translate(0 -247.50)"><use href="#rjU" x="737.50" y="247.50"/></g>
<use href="#ledG" x="737.50" y="247.50"/><use href="#ledY" x="755.90" y="247.50"/>
<g transform="translate(0 274.40) scale(1 0.92) translate(0 -274.40)"><use href="#rjD" x="737.50" y="274.40"/></g>
<use href="#ledG" x="737.50" y="288.43"/><use href="#ledY" x="755.90" y="288.43"/>
<g transform="translate(0 247.50) scale(1 0.955) translate(0 -247.50)"><use href="#rjU" x="763.60" y="247.50"/></g>
<use href="#ledG" x="763.60" y="247.50"/><use href="#ledY" x="782.00" y="247.50"/>
<g transform="translate(0 274.40) scale(1 0.92) translate(0 -274.40)"><use href="#rjD" x="763.60" y="274.40"/></g>
<use href="#ledG" x="763.60" y="288.43"/><use href="#ledY" x="782.00" y="288.43"/>
<text transform="translate(576.7 243.6) scale(0.87 1)" font-size="5.29" text-anchor="middle" fill="#484c53" >2</text>
<text transform="translate(576.7 298.8) scale(0.87 1)" font-size="5.29" text-anchor="middle" fill="#484c53" >1</text>
<text transform="translate(602.7 243.6) scale(0.87 1)" font-size="5.29" text-anchor="middle" fill="#484c53" >4</text>
<text transform="translate(602.7 298.8) scale(0.87 1)" font-size="5.29" text-anchor="middle" fill="#484c53" >3</text>
<text transform="translate(628.7 243.6) scale(0.87 1)" font-size="5.29" text-anchor="middle" fill="#484c53" >6</text>
<text transform="translate(628.7 298.8) scale(0.87 1)" font-size="5.29" text-anchor="middle" fill="#484c53" >5</text>
<text transform="translate(654.7 243.6) scale(0.87 1)" font-size="5.29" text-anchor="middle" fill="#484c53" >8</text>
<text transform="translate(654.7 298.8) scale(0.87 1)" font-size="5.29" text-anchor="middle" fill="#484c53" >7</text>
<text transform="translate(680.7 243.6) scale(0.87 1)" font-size="5.29" text-anchor="middle" fill="#484c53" >10</text>
<text transform="translate(680.7 298.8) scale(0.87 1)" font-size="5.29" text-anchor="middle" fill="#484c53" >9</text>
<text transform="translate(706.7 243.6) scale(0.87 1)" font-size="5.29" text-anchor="middle" fill="#484c53" >12</text>
<text transform="translate(706.7 298.8) scale(0.87 1)" font-size="5.29" text-anchor="middle" fill="#484c53" >11</text>
<text transform="translate(749.2 243.6) scale(0.87 1)" font-size="5.29" text-anchor="middle" fill="#484c53" >14</text>
<text transform="translate(749.2 298.8) scale(0.87 1)" font-size="5.29" text-anchor="middle" fill="#484c53" >13</text>
<text transform="translate(775.3 243.6) scale(0.87 1)" font-size="5.29" text-anchor="middle" fill="#484c53" >16</text>
<text transform="translate(775.3 298.8) scale(0.87 1)" font-size="5.29" text-anchor="middle" fill="#484c53" >15</text>
<text transform="translate(546.8 301.0) scale(0.87 1)" font-size="4.37" text-anchor="middle" fill="#3c4047" textLength="6.67" lengthAdjust="spacingAndGlyphs" >1GE</text>
<text transform="translate(803.4 301.0) scale(0.87 1)" font-size="4.37" text-anchor="middle" fill="#3c4047" textLength="10.11" lengthAdjust="spacingAndGlyphs" >2.5GE</text>
<path d="M552 300.6H724.6V298.2M731.8 298.2V300.6H796.6" fill="none" stroke="#b9bec4" stroke-width="0.55"/>
<use href="#sfp" x="69.1" y="320.3"/>
<text transform="translate(84.1 319.2) scale(0.87 1)" font-size="5.52" text-anchor="middle" fill="#484c53" >F2</text>
<text transform="translate(111.5 319.2) scale(0.87 1)" font-size="5.52" text-anchor="middle" fill="#484c53" >F4</text>
<text transform="translate(84.1 375.3) scale(0.87 1)" font-size="5.52" text-anchor="middle" fill="#484c53" >F1</text>
<text transform="translate(111.5 375.3) scale(0.87 1)" font-size="5.52" text-anchor="middle" fill="#484c53" >F3</text>
<use href="#sfp" x="131.1" y="320.3"/>
<text transform="translate(146.1 319.2) scale(0.87 1)" font-size="5.52" text-anchor="middle" fill="#484c53" >F6</text>
<text transform="translate(173.5 319.2) scale(0.87 1)" font-size="5.52" text-anchor="middle" fill="#484c53" >F8</text>
<text transform="translate(146.1 375.3) scale(0.87 1)" font-size="5.52" text-anchor="middle" fill="#484c53" >F5</text>
<text transform="translate(173.5 375.3) scale(0.87 1)" font-size="5.52" text-anchor="middle" fill="#484c53" >F7</text>
<use href="#sfp" x="193.2" y="320.3"/>
<text transform="translate(208.2 319.2) scale(0.87 1)" font-size="5.52" text-anchor="middle" fill="#484c53" >F10</text>
<text transform="translate(235.6 319.2) scale(0.87 1)" font-size="5.52" text-anchor="middle" fill="#484c53" >F12</text>
<text transform="translate(208.2 375.3) scale(0.87 1)" font-size="5.52" text-anchor="middle" fill="#484c53" >F9</text>
<text transform="translate(235.6 375.3) scale(0.87 1)" font-size="5.52" text-anchor="middle" fill="#484c53" >F11</text>
<text transform="translate(159.6 374.8) scale(0.87 1)" font-size="3.68" text-anchor="middle" fill="#484c53" textLength="8.74" lengthAdjust="spacingAndGlyphs" >10GE+</text>
<path d="M69.1 371.6V376.3H250.2V371.6" fill="none" stroke="#b9bec4" stroke-width="0.6"/>
<rect x="304.3" y="321.7" width="59.4" height="48.9" fill="url(#gFrame)" stroke="#303030" stroke-width="0.8"/>
<rect x="305.40000000000003" y="322.8" width="57.199999999999996" height="46.7" fill="none" stroke="#efefef" stroke-width="0.7" opacity="0.8"/>
<use href="#rjU" x="308.80" y="325.00"/>
<use href="#ledG" x="308.80" y="325.00"/><use href="#ledW" x="327.20" y="325.00"/>
<use href="#rjD" x="308.80" y="349.70"/>
<use href="#ledG" x="308.80" y="365.20"/><use href="#ledW" x="327.20" y="365.20"/>
<use href="#rjU" x="335.10" y="325.00"/>
<use href="#ledG" x="335.10" y="325.00"/><use href="#ledW" x="353.50" y="325.00"/>
<use href="#rjD" x="335.10" y="349.70"/>
<use href="#ledG" x="335.10" y="365.20"/><use href="#ledW" x="353.50" y="365.20"/>
<rect x="372.3" y="321.7" width="59.6" height="48.9" fill="url(#gFrame)" stroke="#303030" stroke-width="0.8"/>
<rect x="373.40000000000003" y="322.8" width="57.4" height="46.7" fill="none" stroke="#efefef" stroke-width="0.7" opacity="0.8"/>
<use href="#rjU" x="376.80" y="325.00"/>
<use href="#ledG" x="376.80" y="325.00"/><use href="#ledW" x="395.20" y="325.00"/>
<use href="#rjD" x="376.80" y="349.70"/>
<use href="#ledG" x="376.80" y="365.20"/><use href="#ledW" x="395.20" y="365.20"/>
<use href="#rjU" x="403.10" y="325.00"/>
<use href="#ledG" x="403.10" y="325.00"/><use href="#ledW" x="421.50" y="325.00"/>
<use href="#rjD" x="403.10" y="349.70"/>
<use href="#ledG" x="403.10" y="365.20"/><use href="#ledW" x="421.50" y="365.20"/>
<text transform="translate(321.2 319.8) scale(0.87 1)" font-size="5.75" text-anchor="middle" fill="#484c53" textLength="17.70" lengthAdjust="spacingAndGlyphs" >2/WAN</text>
<text transform="translate(347.4 319.6) scale(0.87 1)" font-size="5.52" text-anchor="middle" fill="#484c53" >4</text>
<text transform="translate(389.4 319.6) scale(0.87 1)" font-size="5.52" text-anchor="middle" fill="#484c53" >6</text>
<text transform="translate(415.5 319.6) scale(0.87 1)" font-size="5.52" text-anchor="middle" fill="#484c53" >8</text>
<text transform="translate(321.3 375.5) scale(0.87 1)" font-size="5.75" text-anchor="middle" fill="#484c53" textLength="15.63" lengthAdjust="spacingAndGlyphs" >1/LAN</text>
<text transform="translate(347.5 375.5) scale(0.87 1)" font-size="5.75" text-anchor="middle" fill="#484c53" textLength="16.78" lengthAdjust="spacingAndGlyphs" >3/DMZ</text>
<text transform="translate(389.4 375.4) scale(0.87 1)" font-size="5.52" text-anchor="middle" fill="#484c53" >5</text>
<text transform="translate(415.5 375.4) scale(0.87 1)" font-size="5.52" text-anchor="middle" fill="#484c53" >7</text>
<text transform="translate(368.4 375.2) scale(0.87 1)" font-size="3.45" text-anchor="middle" fill="#484c53" textLength="5.06" lengthAdjust="spacingAndGlyphs" >1GE</text>
<path d="M304 371.8V376.5H432.4V371.8" fill="none" stroke="#b9bec4" stroke-width="0.6"/>
<rect x="447" y="310.4" width="366.8" height="2.6" fill="url(#gBayShadeUp)"/>
<rect x="448" y="313.5" width="365" height="67" rx="2.2" fill="#f7fafd" stroke="none"/>
<path d="M447.9 310.8V378.6Q447.9 380.4 449.8 380.4" stroke="#46484c" stroke-width="1.5" fill="none"/>
<path d="M447 313.5H811.4Q813 313.5 813 315" stroke="#686c71" stroke-width="1.2" fill="none"/>
<path d="M447 313.5H459.4M617.2 313.5H643M801.4 313.5H811.4Q813 313.5 813 315" stroke="#303236" stroke-width="1.25" fill="none"/>
<path d="M449 380.4H811Q813 380.4 813 378.6" stroke="#3a3c40" stroke-width="1.3" fill="none"/>
<path d="M813 315V378.8" stroke="#8e9195" stroke-width="1.6" fill="none"/>
<path d="M630.1 314V380" stroke="#55595e" stroke-width="1.7"/>
<rect x="809.6" y="381.6" width="3.8" height="3.2" fill="#dedede" stroke="#c6c6c6" stroke-width="0.4"/>
<rect x="447.4" y="381.6" width="3.2" height="2.6" fill="#e2e2e2" stroke="#cacaca" stroke-width="0.4"/>
<path d="M459.4 314V316.2M459.4 380.2V378M617.2 314V316.2M617.2 380.2V378M643 314V316.2M643 380.2V378M801.4 314V316.2M801.4 380.2V378" stroke="#3c3e42" stroke-width="0.9"/>
<use href="#screw" x="460.6" y="325.7"/>
<use href="#screw" x="617.0" y="325.7"/>
<use href="#screw" x="644.8" y="325.7"/>
<use href="#screw" x="800.6" y="325.7"/>
<use href="#dots8" x="454.4" y="344.1"/>
<use href="#dots8" x="615.6" y="344.1"/>
<use href="#dots8" x="637.4" y="344.1"/>
<use href="#dots8" x="799.0" y="344.1"/>
<use href="#sfp" x="476.1" y="320.5"/>
<text transform="translate(491.1 319.6) scale(0.87 1)" font-size="4.83" text-anchor="middle" fill="#484c53" >2</text>
<text transform="translate(518.5 319.6) scale(0.87 1)" font-size="4.83" text-anchor="middle" fill="#484c53" >4</text>
<text transform="translate(491.1 374.4) scale(0.87 1)" font-size="4.83" text-anchor="middle" fill="#484c53" >1</text>
<text transform="translate(518.5 374.4) scale(0.87 1)" font-size="4.83" text-anchor="middle" fill="#484c53" >3</text>
<use href="#sfp" x="544.1" y="320.5"/>
<text transform="translate(559.1 319.6) scale(0.87 1)" font-size="4.83" text-anchor="middle" fill="#484c53" >6</text>
<text transform="translate(586.5 319.6) scale(0.87 1)" font-size="4.83" text-anchor="middle" fill="#484c53" >8</text>
<text transform="translate(559.1 374.4) scale(0.87 1)" font-size="4.83" text-anchor="middle" fill="#484c53" >5</text>
<text transform="translate(586.5 374.4) scale(0.87 1)" font-size="4.83" text-anchor="middle" fill="#484c53" >7</text>
<text transform="translate(455.2 376.9) scale(0.87 1)" font-size="4.37" text-anchor="middle" fill="#3c4047" textLength="7.13" lengthAdjust="spacingAndGlyphs" >SFP</text>
<text transform="translate(639.4 376.9) scale(0.87 1)" font-size="4.37" text-anchor="middle" fill="#3c4047" textLength="9.66" lengthAdjust="spacingAndGlyphs" >QSFP</text>
<use href="#qsfp" x="679.1" y="350.7"/><use href="#qsfp" x="725.9" y="350.7"/>
<text transform="translate(698.2 374.2) scale(0.87 1)" font-size="4.83" text-anchor="middle" fill="#484c53" >1</text>
<text transform="translate(745.2 374.2) scale(0.87 1)" font-size="4.83" text-anchor="middle" fill="#484c53" >2</text>
<text transform="translate(672.6 346.9) scale(0.87 1)" font-size="4.94" text-anchor="middle" fill="#3c4047" >2</text>
<text transform="translate(672.6 370.3) scale(0.87 1)" font-size="4.94" text-anchor="middle" fill="#3c4047" >1</text>
<circle cx="672.6" cy="349.2" r="2.0" fill="#14581a"/><circle cx="672.6" cy="349.2" r="1.65" fill="url(#gLedG)"/>
<text transform="translate(669.6 350.59999999999997) scale(0.87 1)" font-size="4.94" text-anchor="end" fill="#3c4047" textLength="13.10" lengthAdjust="spacingAndGlyphs" >AT/LK</text>
<circle cx="672.6" cy="354.2" r="2.0" fill="#0e4a8c"/><circle cx="672.6" cy="354.2" r="1.65" fill="url(#gLedB)"/>
<text transform="translate(669.6 355.59999999999997) scale(0.87 1)" font-size="4.94" text-anchor="end" fill="#3c4047" textLength="13.10" lengthAdjust="spacingAndGlyphs" >Speed</text>
<circle cx="672.6" cy="358.9" r="2.0" fill="#14581a"/><circle cx="672.6" cy="358.9" r="1.65" fill="url(#gLedG)"/>
<text transform="translate(669.6 360.29999999999995) scale(0.87 1)" font-size="4.94" text-anchor="end" fill="#3c4047" textLength="13.10" lengthAdjust="spacingAndGlyphs" >AT/LK</text>
<circle cx="672.6" cy="363.7" r="2.0" fill="#0e4a8c"/><circle cx="672.6" cy="363.7" r="1.65" fill="url(#gLedB)"/>
<text transform="translate(669.6 365.09999999999997) scale(0.87 1)" font-size="4.94" text-anchor="end" fill="#3c4047" textLength="13.10" lengthAdjust="spacingAndGlyphs" >Speed</text>
</g>
<g stroke="#80848a" stroke-width="2" fill="none" stroke-linejoin="miter">
<path d="M93 180V250"/>
<path d="M201 180V205M165 232V205H235V266"/>
<path d="M539 180V232.5"/>
<path d="M165 380V427"/>
<path d="M369 380V427"/>
<path d="M629 388V427"/>
</g>
</svg>
</body></html>
